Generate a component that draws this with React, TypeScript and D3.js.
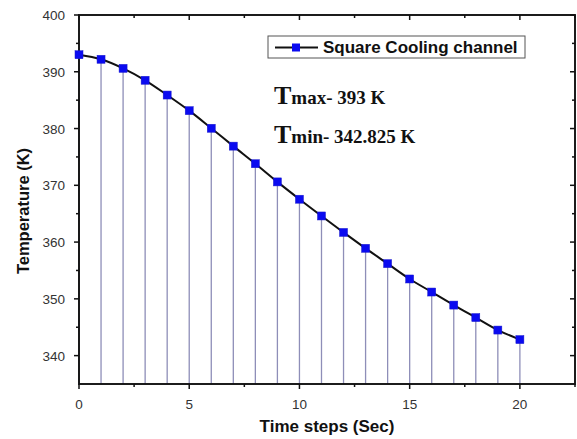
import React from "react";
import * as d3 from "d3";

const timeSteps = [0, 1, 2, 3, 4, 5, 6, 7, 8, 9, 10, 11, 12, 13, 14, 15, 16, 17, 18, 19, 20];
const temperatures = [393.0, 392.2, 390.6, 388.5, 385.9, 383.15, 380.05, 376.9, 373.8, 370.6, 367.55, 364.6, 361.7, 358.9, 356.2, 353.5, 351.2, 348.9, 346.7, 344.5, 342.825];
const xTicks = [0, 5, 10, 15, 20];
const yTicks = [340, 350, 360, 370, 380, 390, 400];
const seriesName = "Square Cooling channel";

const W = 577, H = 439;
const left = 79, right = 575, top = 15, bottom = 384;

export default function App() {
  const x = d3.scaleLinear().domain([0, 22.5]).range([left, right]);
  const y = d3.scaleLinear().domain([335, 400]).range([bottom, top]);
  const data = timeSteps.map((t, i) => ({ t, v: temperatures[i] }));
  const line = d3.line<{ t: number; v: number }>().x(d => x(d.t)).y(d => y(d.v)).curve(d3.curveCatmullRom);
  const xMinor = d3.range(2.5, 22.6, 5);
  const yMinor = d3.range(335, 400, 10).filter(v => v > 335);
  const sans = "'Liberation Sans', Arial, sans-serif";
  const serif = "'Liberation Serif', 'Times New Roman', serif";
  return (
    <svg width={W} height={H} style={{ position: "absolute", left: 0, top: 0, background: "#fff" }}>
      {data.map(d => (
        <line key={"d" + d.t} x1={x(d.t)} x2={x(d.t)} y1={y(d.v)} y2={bottom} stroke="#8e8eb8" strokeWidth={1.3} />
      ))}
      <rect x={left} y={top} width={right - left} height={bottom - top} fill="none" stroke="#111" strokeWidth={1.9} />
      {xTicks.map(t => (
        <g key={"xt" + t}>
          <line x1={x(t)} x2={x(t)} y1={bottom} y2={bottom + 5} stroke="#111" strokeWidth={1.5} />
          <line x1={x(t)} x2={x(t)} y1={top} y2={top + 5} stroke="#111" strokeWidth={1.5} />
          <text x={x(t)} y={bottom + 25} textAnchor="middle" fontFamily={sans} fontSize={13.5} fill="#333">{t}</text>
        </g>
      ))}
      {xMinor.map(t => (
        <g key={"xm" + t}>
          <line x1={x(t)} x2={x(t)} y1={bottom} y2={bottom + 3} stroke="#111" strokeWidth={1.5} />
          <line x1={x(t)} x2={x(t)} y1={top} y2={top + 3} stroke="#111" strokeWidth={1.5} />
        </g>
      ))}
      {yTicks.map(v => (
        <g key={"yt" + v}>
          <line x1={left - 5} x2={left} y1={y(v)} y2={y(v)} stroke="#111" strokeWidth={1.5} />
          <line x1={right - 5} x2={right} y1={y(v)} y2={y(v)} stroke="#111" strokeWidth={1.5} />
          <text x={left - 14} y={y(v) + 5} textAnchor="end" fontFamily={sans} fontSize={13.5} fill="#333">{v}</text>
        </g>
      ))}
      {yMinor.map(v => (
        <g key={"ym" + v}>
          <line x1={left - 3} x2={left} y1={y(v)} y2={y(v)} stroke="#111" strokeWidth={1.5} />
          <line x1={right - 3} x2={right} y1={y(v)} y2={y(v)} stroke="#111" strokeWidth={1.5} />
        </g>
      ))}
      <path d={line(data) || ""} fill="none" stroke="#111" strokeWidth={2} />
      {data.map(d => (
        <rect key={"m" + d.t} x={x(d.t) - 4} y={y(d.v) - 4} width={8} height={8} fill="#0a0af0" stroke="#1a1acc" strokeWidth={0.5} />
      ))}
      <rect x={268} y={36} width={257} height={22} fill="#fff" stroke="#555" strokeWidth={1} />
      <line x1={275} x2={318} y1={47.5} y2={47.5} stroke="#111" strokeWidth={2} />
      <rect x={292} y={43.5} width={8} height={8} fill="#0a0af0" />
      <text x={323} y={53} fontFamily={sans} fontWeight="bold" fontSize={17} fill="#111">{seriesName}</text>
      <text x={274} y={104} fontFamily={serif} fontWeight="bold" fill="#111">
        <tspan fontSize={26}>T</tspan>
        <tspan fontSize={19}>max- 393 K</tspan>
      </text>
      <text x={274} y={142.5} fontFamily={serif} fontWeight="bold" fill="#111">
        <tspan fontSize={26}>T</tspan>
        <tspan fontSize={19}>min- 342.825 K</tspan>
      </text>
      <text x={(left + right) / 2} y={432} textAnchor="middle" fontFamily={sans} fontWeight="bold" fontSize={17} fill="#111">Time steps (Sec)</text>
      <text transform={`translate(29,211) rotate(-90)`} textAnchor="middle" fontFamily={sans} fontWeight="bold" fontSize={16.5} fill="#111">Temperature (K)</text>
    </svg>
  );
}
